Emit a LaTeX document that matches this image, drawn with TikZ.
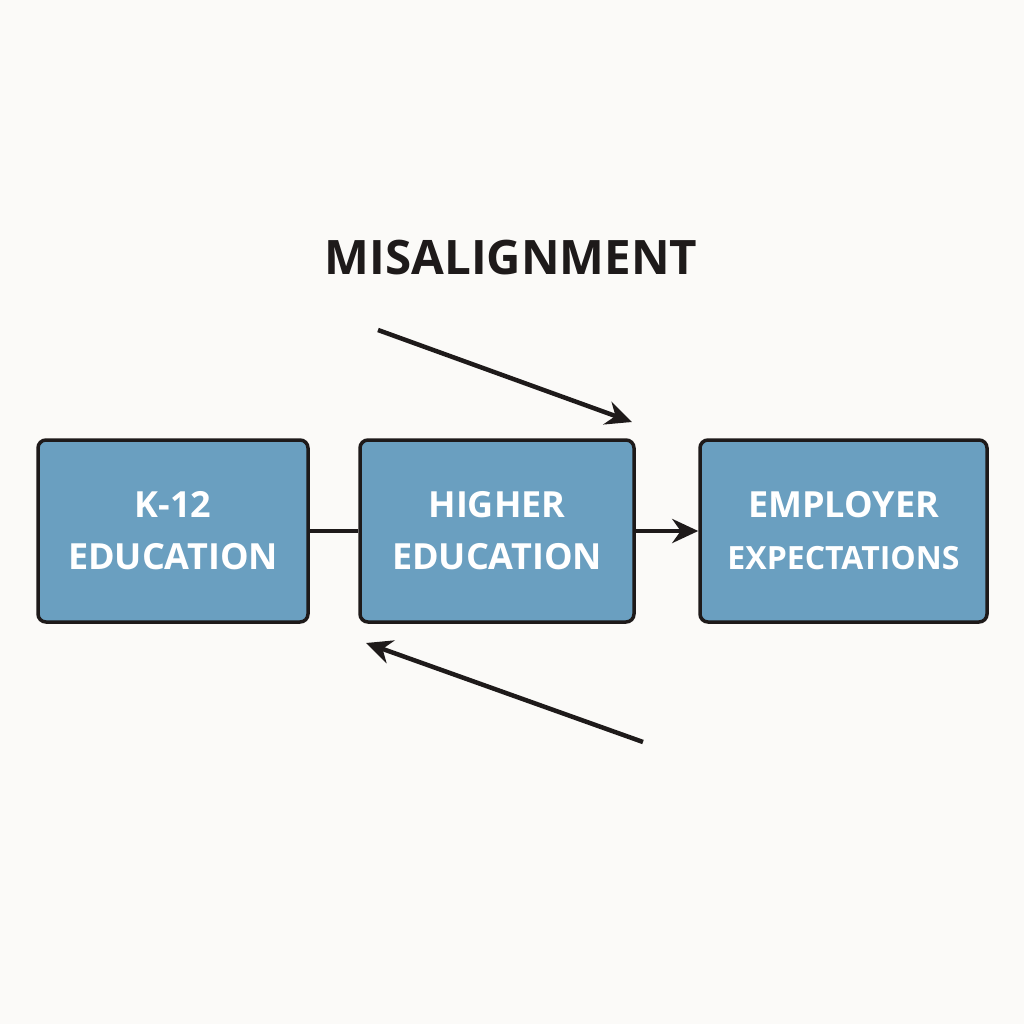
\documentclass[tikz,border=0pt]{standalone}
\usepackage{fontspec}
\setmainfont{Open Sans}
\usetikzlibrary{arrows.meta}
\definecolor{bg}{HTML}{FBFAF8}
\definecolor{boxc}{HTML}{6A9FC0}
\definecolor{ink}{HTML}{1E1A1A}
\tikzset{
  stagebox/.style={draw=ink,line width=3.5pt,fill=boxc,rounded corners=8pt,text=white,align=center,font=\fontsize{36}{52}\selectfont\bfseries,inner sep=0pt},
  conn/.style={draw=ink,line width=4.5pt},
  arr/.style={conn,-{Stealth[length=26pt,width=24pt]}}
}
\begin{document}
\begin{tikzpicture}[x=1pt,y=-1pt]
\fill[bg] (0,0) rectangle (1024,1024);
\useasboundingbox (0,0) rectangle (1024,1024);
\node[stagebox,minimum width=270pt,minimum height=182pt] (k) at (173,531) {K-12\\EDUCATION};
\node[stagebox,minimum width=274pt,minimum height=182pt] (h) at (497,531) {HIGHER\\EDUCATION};
\node[stagebox,minimum width=287pt,minimum height=182pt] (e) at (843.5,531) {EMPLOYER\\{\fontsize{32}{52}\selectfont EXPECTATIONS}};
\node[text=ink,font=\fontsize{47.5}{50}\selectfont\bfseries] (t) at (511,258) {MISALIGNMENT};
\draw[conn] (k.east) -- (h.west);
\draw[arr] (h.east) -- (e.west);
\coordinate (a1) at (378,330);
\coordinate (a2) at (632,422);
\coordinate (b1) at (643,742);
\coordinate (b2) at (366,643);
\draw[arr] (a1) -- (a2);
\draw[arr] (b1) -- (b2);
\end{tikzpicture}
\end{document}
